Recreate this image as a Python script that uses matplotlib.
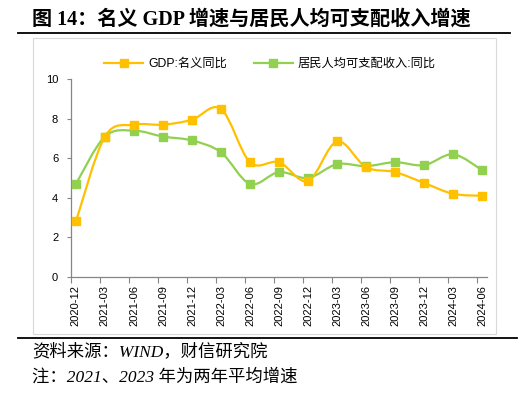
import matplotlib
matplotlib.use('Agg')
import matplotlib.pyplot as plt
from matplotlib.path import Path
from matplotlib.patches import PathPatch, Rectangle
from matplotlib.lines import Line2D

quarters = ['2020-12', '2021-03', '2021-06', '2021-09', '2021-12', '2022-03',
            '2022-06', '2022-09', '2022-12', '2023-03', '2023-06', '2023-09',
            '2023-12', '2024-03', '2024-06']
gdp_nominal = [2.8, 7.1, 7.7, 7.7, 7.95, 8.5, 5.8, 5.8, 4.85, 6.85, 5.55, 5.3,
               4.75, 4.2, 4.1]
income_per_capita = [4.7, 7.1, 7.4, 7.1, 6.9, 6.3, 4.7, 5.3, 5.0, 5.7, 5.6,
                     5.8, 5.65, 6.2, 5.4]

GDP_LABEL = 'GDP:名义同比'
INCOME_LABEL = '居民人均可支配收入:同比'
ORANGE = '#FFC000'
GREEN = '#92D050'
AXIS_GRAY = '#868686'

W, H = 529, 397


def fx(px):
    return px / W


def fy(py):
    return 1 - py / H


def smooth_path(xs, ys):
    # cubic bezier through the points (Excel-style smoothed line)
    pts = list(zip(xs, ys))
    verts = [pts[0]]
    codes = [Path.MOVETO]
    n = len(pts)
    for i in range(n - 1):
        p0 = pts[i - 1] if i > 0 else pts[i]
        p1 = pts[i]
        p2 = pts[i + 1]
        p3 = pts[i + 2] if i + 2 < n else pts[i + 1]
        c1 = (p1[0] + (p2[0] - p0[0]) / 6, p1[1] + (p2[1] - p0[1]) / 6)
        c2 = (p2[0] - (p3[0] - p1[0]) / 6, p2[1] - (p3[1] - p1[1]) / 6)
        verts += [c1, c2, p2]
        codes += [Path.CURVE4] * 3
    return Path(verts, codes)


plt.rcParams['font.family'] = ['Liberation Sans', 'Noto Sans CJK SC']

fig = plt.figure(figsize=(W / 100, H / 100), dpi=100)
ax = fig.add_axes([fx(70.7), fy(276.7), fx(486.7) - fx(70.7), fy(79.3) - fy(276.7)])

x = list(range(len(quarters)))
for vals, color in [(income_per_capita, GREEN), (gdp_nominal, ORANGE)]:
    ax.add_patch(PathPatch(smooth_path(x, vals), fill=False, edgecolor=color,
                           lw=1.6, zorder=3, capstyle='round'))
    ax.plot(x, vals, ls='none', marker='s', ms=5.5, color=color, zorder=4)

ax.set_xlim(-0.18, 14.16)
ax.set_ylim(0, 10)
ax.set_yticks(range(0, 11, 2))
ax.set_xticks(x)
ax.set_xticklabels(quarters, rotation=90)
ax.set_xticks([k - 0.18 for k in range(15)], minor=True)
ax.tick_params(axis='x', which='major', length=0, pad=6, labelsize=8)
ax.tick_params(axis='x', which='minor', length=4, color=AXIS_GRAY, width=0.8)
ax.tick_params(axis='y', length=3, color=AXIS_GRAY, width=0.8, labelsize=8, pad=6)

for s in ['top', 'right']:
    ax.spines[s].set_visible(False)
for s in ['left', 'bottom']:
    ax.spines[s].set_color(AXIS_GRAY)
    ax.spines[s].set_linewidth(0.9)

handles = [Line2D([], [], color=ORANGE, lw=1.6, marker='s', ms=5.5),
           Line2D([], [], color=GREEN, lw=1.6, marker='s', ms=5.5)]
fig.legend(handles, [GDP_LABEL, INCOME_LABEL], ncol=2, frameon=False,
           loc='center', bbox_to_anchor=(fx(270), fy(64)), fontsize=8.8,
           handlelength=3.2, columnspacing=2.2, handletextpad=0.4)

# frame around chart
fig.add_artist(Rectangle((fx(33), fy(334)), fx(496) - fx(33), fy(38) - fy(334),
                         transform=fig.transFigure, fill=False,
                         edgecolor='#D9D9D9', lw=0.8))

# title and rules
fig.text(fx(32), fy(20), '图 14：名义 GDP 增速与居民人均可支配收入增速',
         family=['Liberation Serif', 'Noto Sans CJK SC'], fontweight='bold',
         fontsize=14.5, va='center', ha='left')
fig.add_artist(Line2D([fx(18), fx(510)], [fy(33), fy(33)], color='black', lw=1.3))
fig.add_artist(Line2D([fx(18), fx(517)], [fy(338), fy(338)], color='black', lw=1.3))

foot_font = ['Liberation Serif', 'Noto Sans CJK SC']
fig.text(fx(32), fy(352), '资料来源：WIND，财信研究院', family=foot_font,
         style='italic', fontsize=12.5, va='center', ha='left')
fig.text(fx(32), fy(377), '注：2021、2023 年为两年平均增速', family=foot_font,
         style='italic', fontsize=12.5, va='center', ha='left')

fig.savefig('out.png', dpi=100, facecolor='white')
